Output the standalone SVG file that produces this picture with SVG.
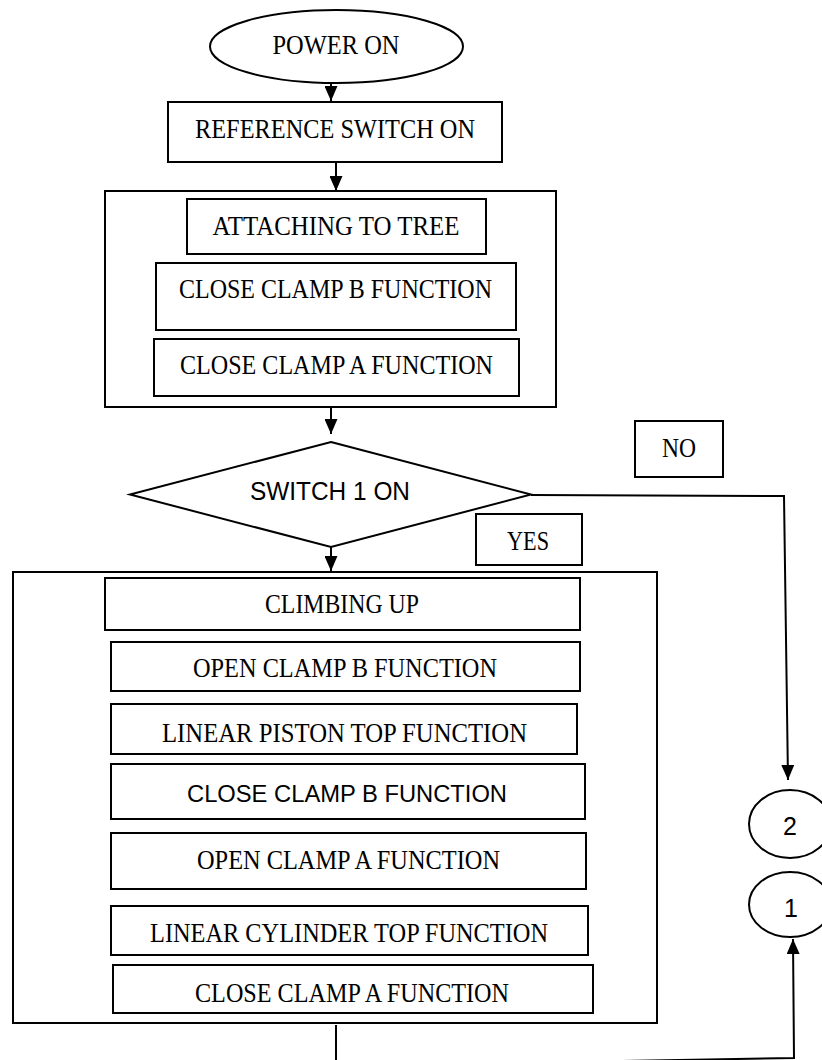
<svg xmlns="http://www.w3.org/2000/svg" width="822" height="1060" viewBox="0 0 822 1060">
<style>
.box{fill:#fff;stroke:#000;stroke-width:2}
.grp{fill:none;stroke:#000;stroke-width:2}
.con{fill:none;stroke:#000;stroke-width:2}
.s{font-family:"Liberation Serif","Times New Roman",serif;font-size:27px;fill:#000;text-anchor:middle}
.n{font-family:"Liberation Sans",Arial,sans-serif;font-size:25px;fill:#000;text-anchor:middle}
</style>
<defs>
<marker id="ah" viewBox="0 0 15 13" refX="15" refY="6.5" markerWidth="15" markerHeight="13" markerUnits="userSpaceOnUse" orient="auto">
<path d="M0,0 L15,6.5 L0,13 z" fill="#000"/>
</marker>
</defs>
<rect width="822" height="1060" fill="#fff"/>
<g id="group1"><rect class="grp" x="105" y="191" width="451" height="216"/></g>
<g id="group2"><rect class="grp" x="13" y="572" width="644" height="451"/></g>
<g id="connectors">
<line class="con" x1="331" y1="83" x2="331" y2="101" marker-end="url(#ah)"/>
<line class="con" x1="336" y1="162" x2="336" y2="191" marker-end="url(#ah)"/>
<line class="con" x1="331" y1="407" x2="331" y2="434" marker-end="url(#ah)"/>
<line class="con" x1="331" y1="547" x2="331" y2="571" marker-end="url(#ah)"/>
<polyline class="con" points="531,495 784,496 788,780" marker-end="url(#ah)"/>
<polyline class="con" points="336,1025 336,1066 794,1058 793,939" marker-end="url(#ah)"/>
</g>
<g id="power-on"><ellipse class="box" cx="336.5" cy="46.5" rx="126.5" ry="36.5"/><text class="s" x="336" y="54" textLength="127" lengthAdjust="spacingAndGlyphs">POWER ON</text></g>
<g id="reference-switch"><rect class="box" x="168" y="102" width="334" height="60"/><text class="s" x="335" y="138" textLength="280" lengthAdjust="spacingAndGlyphs">REFERENCE SWITCH ON</text></g>
<g id="attaching"><rect class="box" x="187" y="199" width="299" height="55"/><text class="s" x="336" y="235" textLength="247" lengthAdjust="spacingAndGlyphs">ATTACHING TO TREE</text></g>
<g id="close-b-1"><rect class="box" x="156" y="263" width="360" height="67"/><text class="s" x="335.5" y="298" textLength="313" lengthAdjust="spacingAndGlyphs">CLOSE CLAMP B FUNCTION</text></g>
<g id="close-a-1"><rect class="box" x="154" y="339" width="365" height="57"/><text class="s" x="336.5" y="374" textLength="313" lengthAdjust="spacingAndGlyphs">CLOSE CLAMP A FUNCTION</text></g>
<g id="switch1"><polygon class="box" points="331,442 531,494.5 331,547 130,494.5"/><text class="n" x="330" y="500" textLength="160" lengthAdjust="spacingAndGlyphs">SWITCH 1 ON</text></g>
<g id="no"><rect class="box" x="635" y="421" width="88" height="56"/><text class="s" x="679" y="457" textLength="34" lengthAdjust="spacingAndGlyphs">NO</text></g>
<g id="yes"><rect class="box" x="476" y="514" width="106" height="51"/><text class="s" x="528" y="550" textLength="42" lengthAdjust="spacingAndGlyphs">YES</text></g>
<g id="climbing"><rect class="box" x="105" y="578" width="475" height="52"/><text class="s" x="342" y="613" textLength="154" lengthAdjust="spacingAndGlyphs">CLIMBING UP</text></g>
<g id="open-b"><rect class="box" x="111" y="642" width="469" height="49"/><text class="s" x="345" y="677" textLength="304" lengthAdjust="spacingAndGlyphs">OPEN CLAMP B FUNCTION</text></g>
<g id="linear-piston"><rect class="box" x="111" y="704" width="466" height="50"/><text class="s" x="344.5" y="742" textLength="365" lengthAdjust="spacingAndGlyphs">LINEAR PISTON TOP FUNCTION</text></g>
<g id="close-b-2"><rect class="box" x="111" y="764" width="474" height="55"/><text class="n" x="347" y="802" style="font-size:24px" textLength="320" lengthAdjust="spacingAndGlyphs">CLOSE CLAMP B FUNCTION</text></g>
<g id="open-a"><rect class="box" x="111" y="833" width="475" height="56"/><text class="s" x="348.5" y="869" textLength="303" lengthAdjust="spacingAndGlyphs">OPEN CLAMP A FUNCTION</text></g>
<g id="linear-cylinder"><rect class="box" x="111" y="906" width="477" height="49"/><text class="s" x="349" y="942" textLength="398" lengthAdjust="spacingAndGlyphs">LINEAR CYLINDER TOP FUNCTION</text></g>
<g id="close-a-2"><rect class="box" x="113" y="965" width="480" height="48"/><text class="s" x="352" y="1002" textLength="314" lengthAdjust="spacingAndGlyphs">CLOSE CLAMP A FUNCTION</text></g>
<g id="conn-2"><ellipse class="box" cx="790" cy="824" rx="41" ry="34"/><text class="n" x="790" y="835">2</text></g>
<g id="conn-1"><ellipse class="box" cx="790" cy="904.5" rx="41" ry="32.5"/><text class="n" x="791" y="917">1</text></g>
</svg>
